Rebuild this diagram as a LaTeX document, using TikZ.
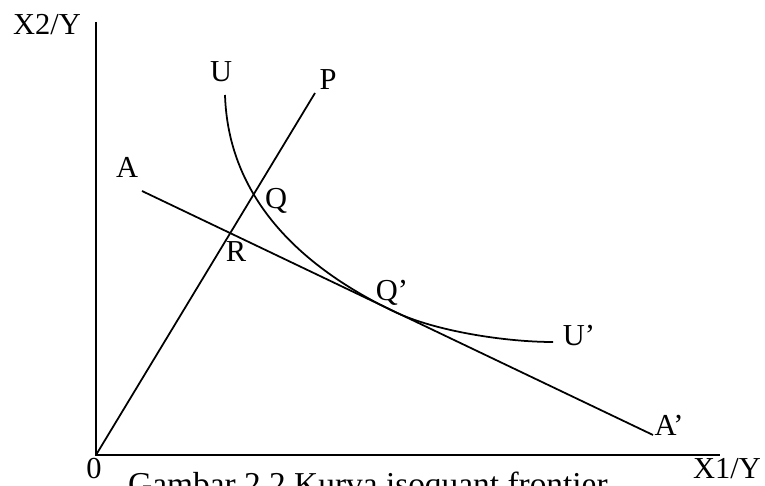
\documentclass[tikz,border=0pt]{standalone}
\usepackage{fontspec}
\setmainfont{Liberation Serif}
\usepackage{tikz}
\usetikzlibrary{positioning}

\tikzset{
  lbl/.style={anchor=base, inner sep=0pt},
  curveline/.style={line width=1.5pt, black}
}

\begin{document}
\begin{tikzpicture}[x=0.03cm, y=0.03cm, font=\fontsize{26}{30}\selectfont]
  \clip (0,0) rectangle (765,486);

  % points
  \coordinate (O)    at (96,31);
  \coordinate (ytop) at (96,464);
  \coordinate (xend) at (720,31);
  \coordinate (P)    at (315,393);
  \coordinate (A)    at (142,295);
  \coordinate (A2)   at (653,51);
  \coordinate (U)    at (225,391);
  \coordinate (Qt)   at (395,174);
  \coordinate (U2)   at (553,144);

  % axes
  \draw[line width=1.7pt] (ytop) -- (O) -- (xend);

  % ray, budget line, isoquant
  \draw[curveline] (O) -- (P);
  \draw[curveline] (A) -- (A2);
  \draw[curveline] (U) .. controls (228,296) and (290,224) .. (Qt)
                       .. controls (435,155) and (505,144) .. (U2);

  % labels
  \node[lbl] (ylab)  at (47,451)  {X2/Y};
  \node[lbl] (xlab)  at (727,7)   {X1/Y};
  \node[lbl] (zero)  at (94,7)    {0};
  \node[lbl] (Ulab)  at (221,404) {U};
  \node[lbl] (Plab)  at (328,396) {P};
  \node[lbl] (Alab)  at (127,308) {A};
  \node[lbl] (Qlab)  at (276,277) {Q};
  \node[lbl] (Rlab)  at (236,224) {R};
  \node[lbl] (Q2lab) at (392,185) {Q’};
  \node[lbl] (U2lab) at (579,140) {U’};
  \node[lbl] (A2lab) at (669,50)  {A’};

  \node[anchor=base west, inner sep=0pt, font=\fontsize{28.5}{32}\selectfont]
    (caption) at (128,-10) {Gambar 2.2 Kurva isoquant frontier};
\end{tikzpicture}
\end{document}
